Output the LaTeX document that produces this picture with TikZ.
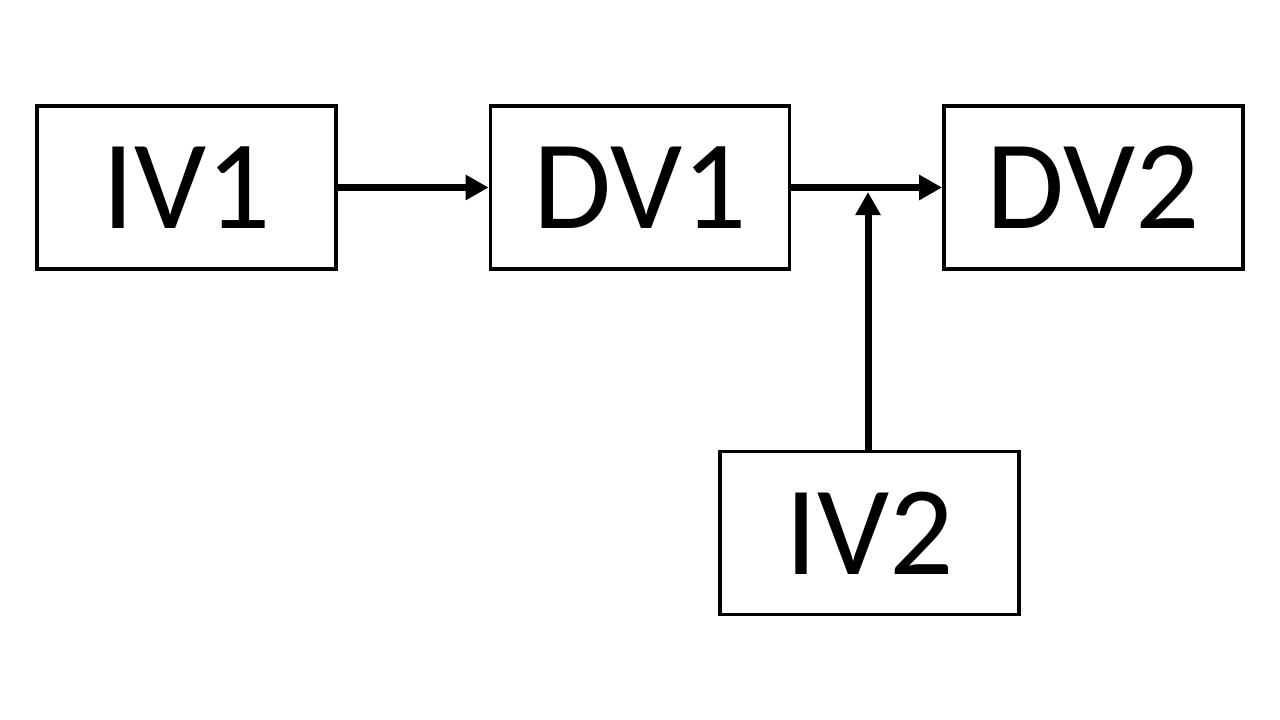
\documentclass[tikz,border=0pt]{standalone}
\usepackage{fontspec}
\setmainfont{Carlito}
\usetikzlibrary{arrows.meta}
\begin{document}
\begin{tikzpicture}[x=1pt,y=-1pt,
  box/.style={draw=black,line width=3.7pt,minimum width=299pt,minimum height=163pt,inner sep=0pt,
    font=\fontsize{127}{130}\selectfont},
  link/.style={line width=7pt,-{Triangle[length=23pt,width=24pt]}}]
\useasboundingbox (0,0) rectangle (1280,720);
\node[box] (IV1) at (186.5,187.5) {IV1};
\node[box] (DV1) at (640,187.5) {DV1};
\node[box] (DV2) at (1093.5,187.5) {DV2};
\node[box] (IV2) at (869.5,533) {IV2};
\coordinate (J) at (868,192);
\draw[link] (IV1.east) -- (DV1.west);
\draw[link] (DV1.east) -- (DV2.west);
\draw[link] (IV2.north -| J) -- (J);
\end{tikzpicture}
\end{document}
